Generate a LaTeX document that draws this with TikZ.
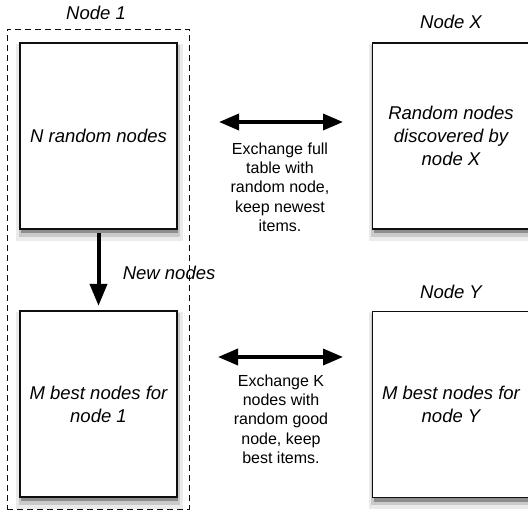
\documentclass[tikz,border=0pt]{standalone}
\usepackage{fontspec}
\setmainfont{Liberation Sans}
\usetikzlibrary{positioning,arrows.meta,shadows}
\tikzstyle{diagram} = [x = 1pt, y = -1pt]
\definecolor{lineColor}{RGB}{15,15,15}
\newcommand{\tableFont}{\fontsize{18.5}{23}\selectfont\itshape}
\newcommand{\noteFont}{\fontsize{16}{19.3}\selectfont}
\tikzstyle{softShadow} = [
  general shadow={fill=black, fill opacity=.08, shadow scale=1.06, shadow xshift=1pt, shadow yshift=-6pt},
  general shadow={fill=black, fill opacity=.14, shadow scale=1.03, shadow xshift=1pt, shadow yshift=-5pt},
  general shadow={fill=black, fill opacity=.30, shadow xshift=1pt, shadow yshift=-4pt}]
\tikzstyle{tableStyle} = [draw=lineColor, fill=white, line width=1.4pt, minimum width=157pt, minimum height=186pt, inner sep=0pt, align=center, font=\tableFont, softShadow]
\tikzstyle{frameStyle} = [draw=lineColor, line width=0.9pt, dash pattern=on 6pt off 4pt, minimum width=182pt, minimum height=480pt, inner sep=0pt]
\tikzstyle{labelStyle} = [font=\tableFont]
\tikzstyle{noteStyle} = [font=\noteFont, align=center]
\tikzstyle{exchangeArrow} = [line width=3.5pt, {Triangle[length=20pt,width=16pt]}-{Triangle[length=20pt,width=16pt]}]
\tikzstyle{newArrow} = [line width=4pt, -{Triangle[length=22pt,width=17pt]}]
\begin{document}
\begin{tikzpicture}[diagram]
  \useasboundingbox (0,0) rectangle (528,512);
  % node 1
  \node [frameStyle] (frameOne) at (98,269) {};
  \node [labelStyle] (labelOne) at (96,13) {Node 1};
  \node [tableStyle] (tableN) at (98.5,136) {N random nodes};
  \node [tableStyle] (bestOne) at (98.5,404) {M best nodes for\\node 1};
  \draw [newArrow, shorten <=3.5pt, shorten >=4.5pt] (tableN) -- (bestOne)
    node [labelStyle, midway, anchor=west, xshift=19pt, yshift=-3pt] (newNodes) {New nodes};
  % other nodes
  \node [labelStyle] (labelX) at (451,22) {Node X};
  \node [tableStyle] (tableX) at (451,136) {Random nodes\\discovered by\\node X};
  \node [labelStyle] (labelY) at (451,292) {Node Y};
  \node [tableStyle] (bestY) at (451,404.5) {M best nodes for\\node Y};
  % exchanges
  \coordinate (fullLeft) at (219,122);
  \coordinate (fullRight) at (343,122);
  \draw [exchangeArrow] (fullLeft) -- (fullRight);
  \node [noteStyle] (fullNote) at (280,187) {Exchange full\\table with\\random node,\\keep newest\\items.};
  \coordinate (bestLeft) at (218,357);
  \coordinate (bestRight) at (343,357);
  \draw [exchangeArrow] (bestLeft) -- (bestRight);
  \node [noteStyle] (bestNote) at (281,419) {Exchange K\\nodes with\\random good\\node, keep\\best items.};
\end{tikzpicture}
\end{document}
